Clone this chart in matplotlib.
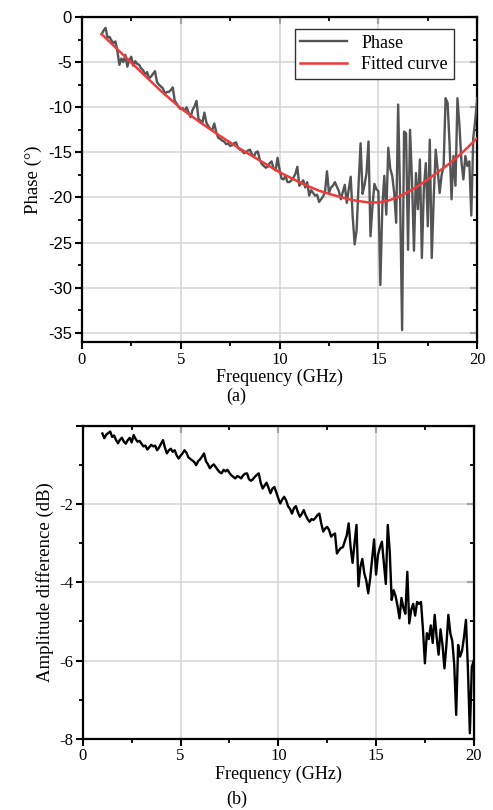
import numpy as np
import matplotlib
matplotlib.use('Agg')
import matplotlib.pyplot as plt
from matplotlib.ticker import MultipleLocator, FuncFormatter

plt.rcParams['axes.unicode_minus'] = False

# ---- data ----
freq_start, freq_stop = 1.0, 20.0

# measured phase (deg), 0.1 GHz steps from 1 to 20 GHz
phase = [
    -1.9, -1.5, -1.2, -2.3, -2.2, -2.6, -2.9, -2.7, -3.8, -5.3,
    -4.6, -5.0, -4.2, -5.5, -4.8, -4.4, -5.4, -4.9, -5.2, -5.3,
    -5.7, -5.9, -6.4, -6.1, -6.8, -6.6, -6.3, -6.0, -7.2, -7.5,
    -7.7, -7.9, -8.5, -8.3, -8.3, -8.1, -7.8, -9.3, -9.6, -10.0,
    -10.2, -10.1, -10.4, -10.0, -10.6, -11.1, -10.3, -9.9, -9.3, -11.3,
    -11.5, -11.7, -10.6, -11.7, -12.1, -12.4, -12.5, -11.8, -12.8, -13.4,
    -13.5, -13.7, -13.8, -14.1, -14.0, -14.3, -14.2, -14.0, -13.9, -14.5,
    -14.7, -14.8, -15.1, -15.0, -14.8, -14.7, -15.2, -15.5, -15.0, -14.9,
    -15.8, -16.3, -16.5, -16.7, -16.6, -16.2, -16.0, -16.8, -17.0, -15.6,
    -16.9, -17.9, -18.0, -17.6, -18.3, -18.3, -18.1, -17.8, -17.4, -16.6,
    -18.7, -18.4, -18.1, -18.9, -18.3, -19.8, -19.2, -19.5, -19.8, -19.7,
    -20.5, -20.2, -19.9, -19.4, -17.1, -19.5, -18.9, -18.7, -18.3, -18.8,
    -19.3, -20.2, -19.4, -18.6, -20.6, -19.1, -17.7, -22.1, -25.2, -23.6,
    -18.5, -14.0, -19.6, -18.6, -17.3, -13.8, -24.3, -21.0, -18.5, -19.1,
    -19.3, -29.7, -21.0, -17.6, -21.9, -14.5, -16.8, -17.6, -19.5, -22.8,
    -9.7, -20.0, -34.7, -12.7, -12.9, -25.8, -12.5, -18.0, -25.9, -17.3,
    -21.3, -15.8, -26.7, -19.0, -16.2, -23.2, -13.6, -26.7, -20.0, -14.7,
    -16.9, -19.5, -17.5, -16.5, -9.0, -9.5, -14.0, -20.2, -15.4, -18.7,
    -9.0, -12.0, -16.0, -18.0, -15.4, -16.5, -16.0, -22.0, -13.4, -11.4,
    -9.0,
]

# fitted curve, 0.5 GHz steps from 1 to 20 GHz
fit_phase = [
    -1.9, -2.95, -4.0, -5.05, -6.1, -7.15, -8.2, -9.15, -10.1, -10.9,
    -11.7, -12.45, -13.2, -13.9, -14.6, -15.25, -15.9, -16.55, -17.2, -17.75,
    -18.3, -18.8, -19.25, -19.6, -19.9, -20.2, -20.4, -20.55, -20.55, -20.35,
    -19.95, -19.4, -18.75, -18.0, -17.2, -16.4, -15.5, -14.5, -13.4,
]

# amplitude difference (dB), 0.1 GHz steps from 1 to 20 GHz
amplitude = [
    -0.19, -0.31, -0.22, -0.18, -0.14, -0.28, -0.24, -0.36, -0.44, -0.35,
    -0.30, -0.40, -0.45, -0.36, -0.30, -0.42, -0.23, -0.33, -0.40, -0.38,
    -0.45, -0.52, -0.50, -0.60, -0.54, -0.48, -0.52, -0.50, -0.62, -0.55,
    -0.45, -0.36, -0.55, -0.70, -0.62, -0.58, -0.66, -0.62, -0.75, -0.83,
    -0.76, -0.70, -0.62, -0.68, -0.80, -0.84, -0.88, -0.92, -1.00, -0.90,
    -0.85, -0.78, -0.70, -0.90, -0.98, -1.08, -1.02, -0.98, -1.05, -1.12,
    -1.18, -1.21, -1.12, -1.16, -1.12, -1.20, -1.26, -1.30, -1.34, -1.28,
    -1.30, -1.34, -1.26, -1.22, -1.21, -1.36, -1.40, -1.36, -1.30, -1.25,
    -1.21, -1.45, -1.60, -1.52, -1.45, -1.58, -1.72, -1.60, -1.56, -1.70,
    -1.85, -1.98, -1.88, -1.81, -1.90, -2.05, -2.12, -2.24, -2.10, -2.05,
    -2.20, -2.32, -2.25, -2.15, -2.28, -2.38, -2.45, -2.38, -2.40, -2.35,
    -2.28, -2.24, -2.50, -2.70, -2.62, -2.58, -2.66, -2.83, -2.78, -2.75,
    -3.26, -3.18, -3.12, -3.10, -2.95, -2.80, -2.49, -3.10, -3.50, -3.00,
    -2.53, -4.10, -3.60, -3.40, -3.77, -3.95, -4.28, -3.90, -3.40, -2.90,
    -3.80, -3.30, -3.10, -2.96, -3.50, -4.04, -2.53, -3.20, -4.45, -4.20,
    -4.35, -4.60, -4.92, -4.40, -4.65, -4.80, -3.73, -5.05, -4.70, -4.55,
    -4.85, -4.50, -4.55, -4.50, -5.20, -6.07, -5.30, -5.45, -5.10, -5.55,
    -4.83, -5.40, -5.85, -5.20, -5.60, -6.20, -5.60, -4.83, -5.30, -5.50,
    -6.10, -7.39, -5.60, -5.90, -5.75, -5.40, -4.96, -6.20, -7.86, -6.16,
    -6.00,
]

freq = np.linspace(freq_start, freq_stop, len(phase))
freq_fit = np.linspace(freq_start, freq_stop, len(fit_phase))
freq_amp = np.linspace(freq_start, freq_stop, len(amplitude))

serif = 'Liberation Serif'
sans = 'Liberation Sans'


def style_axes(ax, ymajor, yminor, ytickfont):
    '''Origin-like frame: out ticks bottom/left, in ticks top/right, grey grid.'''
    ax.set_xlim(0, 20)
    ax.xaxis.set_major_locator(MultipleLocator(5))
    ax.xaxis.set_minor_locator(MultipleLocator(2.5))
    ax.yaxis.set_major_locator(MultipleLocator(ymajor))
    ax.yaxis.set_minor_locator(MultipleLocator(yminor))
    ax.grid(True, which='major', color='#d4d4d4', linewidth=1.1, zorder=0)
    ax.set_axisbelow(True)
    for s in ax.spines.values():
        s.set_linewidth(1.6)
    ax.tick_params(which='major', direction='out', length=5, width=1.5,
                   labelsize=12, pad=2)
    ax.tick_params(which='minor', direction='out', length=3, width=1.3)
    for lab in ax.get_xticklabels():
        lab.set_fontfamily(serif)
    for lab in ax.get_yticklabels():
        lab.set_fontfamily(ytickfont)

    # mirrored ticks pointing inward on top and right
    top = ax.secondary_xaxis('top')
    top.xaxis.set_major_locator(MultipleLocator(5))
    top.xaxis.set_minor_locator(MultipleLocator(2.5))
    top.tick_params(which='major', direction='in', length=5, width=1.5, labeltop=False)
    top.tick_params(which='minor', direction='in', length=3, width=1.3)
    right = ax.secondary_yaxis('right')
    right.yaxis.set_major_locator(MultipleLocator(ymajor))
    right.yaxis.set_minor_locator(MultipleLocator(yminor))
    right.tick_params(which='major', direction='in', length=5, width=1.5, labelright=False)
    right.tick_params(which='minor', direction='in', length=3, width=1.3)


fig = plt.figure(figsize=(4.93, 8.10), dpi=100)

# (a) phase
ax1 = fig.add_axes([0.166, 0.578, 0.802, 0.401])
ax1.plot(freq, phase, color='#545454', linewidth=1.7, label='Phase', zorder=3)
ax1.plot(freq_fit, fit_phase, color='#ee3b3b', linewidth=1.8, label='Fitted curve', zorder=4)
ax1.set_ylim(-36, 0)
style_axes(ax1, 5, 2.5, sans)
ax1.set_ylabel('Phase (°)', fontfamily=serif, fontsize=13.5, labelpad=4)
ax1.set_xlabel('Frequency (GHz)', fontfamily=serif, fontsize=13, labelpad=1)
fig.text(0.48, 0.511, '(a)', fontfamily=serif, fontsize=13, ha='center', va='center')
leg = ax1.legend(loc='upper right', bbox_to_anchor=(0.94, 0.962), borderaxespad=0,
                 prop={'family': serif, 'size': 13},
                 frameon=True, fancybox=False, edgecolor='#333333', framealpha=1,
                 handlelength=2.6, borderpad=0.3, labelspacing=0.25, handletextpad=0.8)
leg.get_frame().set_linewidth(1.0)

# (b) amplitude difference
ax2 = fig.add_axes([0.168, 0.088, 0.793, 0.386])
ax2.plot(freq_amp, amplitude, color='black', linewidth=1.7, zorder=3)
ax2.set_ylim(-8, 0)
style_axes(ax2, 2, 1, serif)
ax2.yaxis.set_major_formatter(FuncFormatter(lambda v, p: '' if v == 0 else '{:g}'.format(v)))
ax2.set_ylabel('Amplitude difference (dB)', fontfamily=serif, fontsize=13.5, labelpad=4)
ax2.set_xlabel('Frequency (GHz)', fontfamily=serif, fontsize=13, labelpad=1)
fig.text(0.48, 0.013, '(b)', fontfamily=serif, fontsize=13, ha='center', va='center')

fig.savefig('out.png', dpi=100)
